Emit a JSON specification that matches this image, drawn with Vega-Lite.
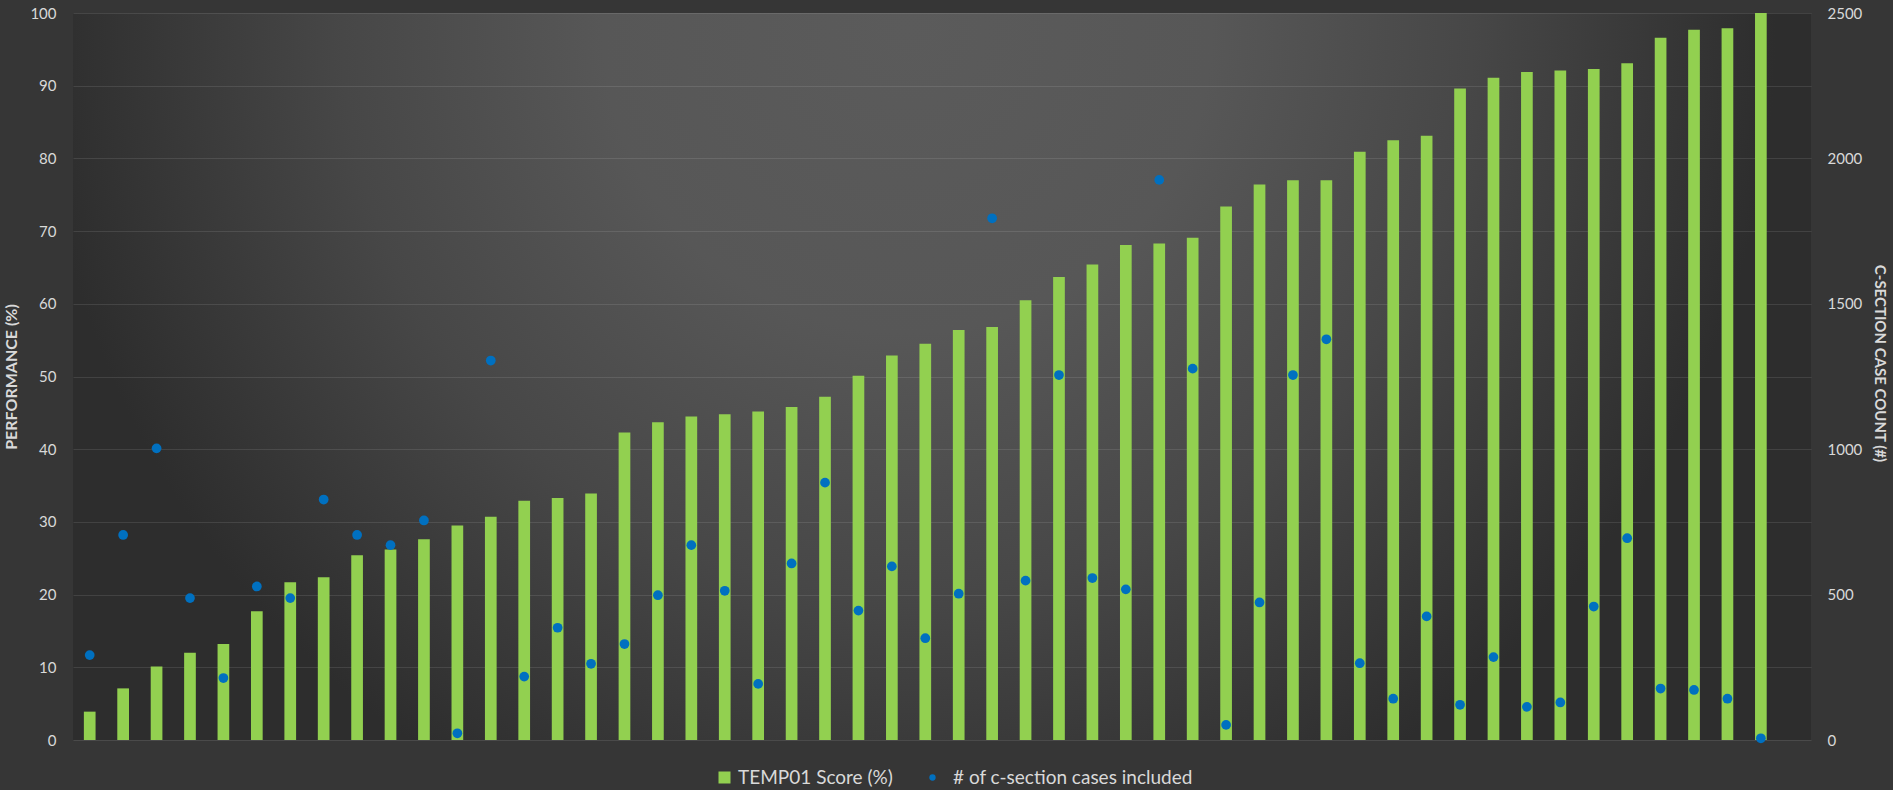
{
  "$schema": "https://vega.github.io/schema/vega-lite/v6.json",
  "width": 1738,
  "height": 727,
  "autosize": {"type": "none"},
  "padding": {"left": 73, "top": 13, "right": 82, "bottom": 50},
  "background": "#363636",
  "config": {
    "font": "Lato",
    "view": {
      "stroke": null,
      "fill": {
        "gradient": "radial",
        "x1": 0.48, "y1": 0.3, "r1": 0,
        "x2": 0.48, "y2": 0.3, "r2": 0.5,
        "stops": [
          {"offset": 0, "color": "#5b5b5b"},
          {"offset": 0.35, "color": "#575757"},
          {"offset": 0.65, "color": "#474747"},
          {"offset": 1, "color": "#2d2d2d"}
        ]
      }
    },
    "axis": {
      "domain": false,
      "ticks": false,
      "labelColor": "#d9d9d9",
      "labelFontSize": 15,
      "titleColor": "#d9d9d9",
      "titleFontWeight": "bold",
      "gridColor": "#ffffff",
      "gridOpacity": 0.1
    },
    "legend": {
      "labelColor": "#d9d9d9",
      "labelFontSize": 19,
      "labelLimit": 0,
      "title": null
    }
  },
  "data": {
    "values": [
      {"i": 1, "score": 3.9, "cases": 292},
      {"i": 2, "score": 7.1, "cases": 705},
      {"i": 3, "score": 10.1, "cases": 1003},
      {"i": 4, "score": 12.0, "cases": 488},
      {"i": 5, "score": 13.2, "cases": 213},
      {"i": 6, "score": 17.7, "cases": 528},
      {"i": 7, "score": 21.7, "cases": 488},
      {"i": 8, "score": 22.4, "cases": 827},
      {"i": 9, "score": 25.4, "cases": 705},
      {"i": 10, "score": 26.2, "cases": 670},
      {"i": 11, "score": 27.6, "cases": 755},
      {"i": 12, "score": 29.5, "cases": 23},
      {"i": 13, "score": 30.7, "cases": 1305},
      {"i": 14, "score": 32.9, "cases": 218},
      {"i": 15, "score": 33.3, "cases": 386},
      {"i": 16, "score": 33.9, "cases": 262},
      {"i": 17, "score": 42.3, "cases": 330},
      {"i": 18, "score": 43.7, "cases": 498},
      {"i": 19, "score": 44.5, "cases": 670},
      {"i": 20, "score": 44.8, "cases": 513},
      {"i": 21, "score": 45.2, "cases": 193},
      {"i": 22, "score": 45.8, "cases": 607},
      {"i": 23, "score": 47.2, "cases": 885},
      {"i": 24, "score": 50.1, "cases": 445},
      {"i": 25, "score": 52.9, "cases": 597},
      {"i": 26, "score": 54.5, "cases": 350},
      {"i": 27, "score": 56.4, "cases": 503},
      {"i": 28, "score": 56.8, "cases": 1794},
      {"i": 29, "score": 60.5, "cases": 548},
      {"i": 30, "score": 63.7, "cases": 1255},
      {"i": 31, "score": 65.4, "cases": 557},
      {"i": 32, "score": 68.1, "cases": 518},
      {"i": 33, "score": 68.3, "cases": 1926},
      {"i": 34, "score": 69.1, "cases": 1277},
      {"i": 35, "score": 73.4, "cases": 52},
      {"i": 36, "score": 76.4, "cases": 473},
      {"i": 37, "score": 77.0, "cases": 1255},
      {"i": 38, "score": 77.0, "cases": 1378},
      {"i": 39, "score": 80.9, "cases": 264},
      {"i": 40, "score": 82.5, "cases": 142},
      {"i": 41, "score": 83.1, "cases": 425},
      {"i": 42, "score": 89.6, "cases": 121},
      {"i": 43, "score": 91.1, "cases": 285},
      {"i": 44, "score": 91.9, "cases": 114},
      {"i": 45, "score": 92.1, "cases": 129},
      {"i": 46, "score": 92.3, "cases": 459},
      {"i": 47, "score": 93.1, "cases": 694},
      {"i": 48, "score": 96.6, "cases": 177},
      {"i": 49, "score": 97.7, "cases": 172},
      {"i": 50, "score": 97.9, "cases": 142},
      {"i": 51, "score": 100, "cases": 6}
    ]
  },
  "layer": [
    {
      "mark": {"type": "bar"},
      "encoding": {
        "x": {
          "field": "i",
          "type": "ordinal",
          "scale": {
            "domain": [1,2,3,4,5,6,7,8,9,10,11,12,13,14,15,16,17,18,19,20,21,22,23,24,25,26,27,28,29,30,31,32,33,34,35,36,37,38,39,40,41,42,43,44,45,46,47,48,49,50,51,52],
            "paddingInner": 0.65,
            "paddingOuter": 0.325
          },
          "axis": null
        },
        "y": {
          "field": "score",
          "type": "quantitative",
          "scale": {"domain": [0, 100], "nice": false},
          "axis": {
            "orient": "left",
            "values": [0,10,20,30,40,50,60,70,80,90,100],
            "title": "PERFORMANCE (%)",
            "titleFontSize": 16,
            "titlePadding": 10,
            "labelPadding": 17,
            "grid": true
          }
        },
        "fill": {
          "datum": "TEMP01 Score (%)",
          "scale": {"range": ["#92D050"]},
          "legend": {
            "orient": "none",
            "legendX": 642,
            "legendY": 755,
            "symbolType": "square",
            "symbolSize": 144,
            "labelOffset": 4
          }
        }
      }
    },
    {
      "mark": {"type": "point", "filled": true, "size": 95, "opacity": 1},
      "encoding": {
        "x": {
          "field": "i",
          "type": "ordinal",
          "scale": {
            "domain": [1,2,3,4,5,6,7,8,9,10,11,12,13,14,15,16,17,18,19,20,21,22,23,24,25,26,27,28,29,30,31,32,33,34,35,36,37,38,39,40,41,42,43,44,45,46,47,48,49,50,51,52],
            "paddingInner": 0.65,
            "paddingOuter": 0.325
          },
          "axis": null
        },
        "y": {
          "field": "cases",
          "type": "quantitative",
          "scale": {"domain": [0, 2500], "nice": false},
          "axis": {
            "orient": "right",
            "values": [0,500,1000,1500,2000,2500],
            "format": "d",
            "title": "C-SECTION CASE COUNT (#)",
            "titleFontSize": 15,
            "titlePadding": 10,
            "titleY": 350,
            "labelPadding": 16,
            "grid": false
          }
        },
        "color": {
          "datum": "# of c-section cases included",
          "scale": {"range": ["#0070C0"]},
          "legend": {
            "orient": "none",
            "legendX": 850,
            "legendY": 755,
            "symbolType": "circle",
            "symbolSize": 40,
            "labelOffset": 11
          }
        }
      }
    }
  ],
  "resolve": {"scale": {"y": "independent"}}
}
